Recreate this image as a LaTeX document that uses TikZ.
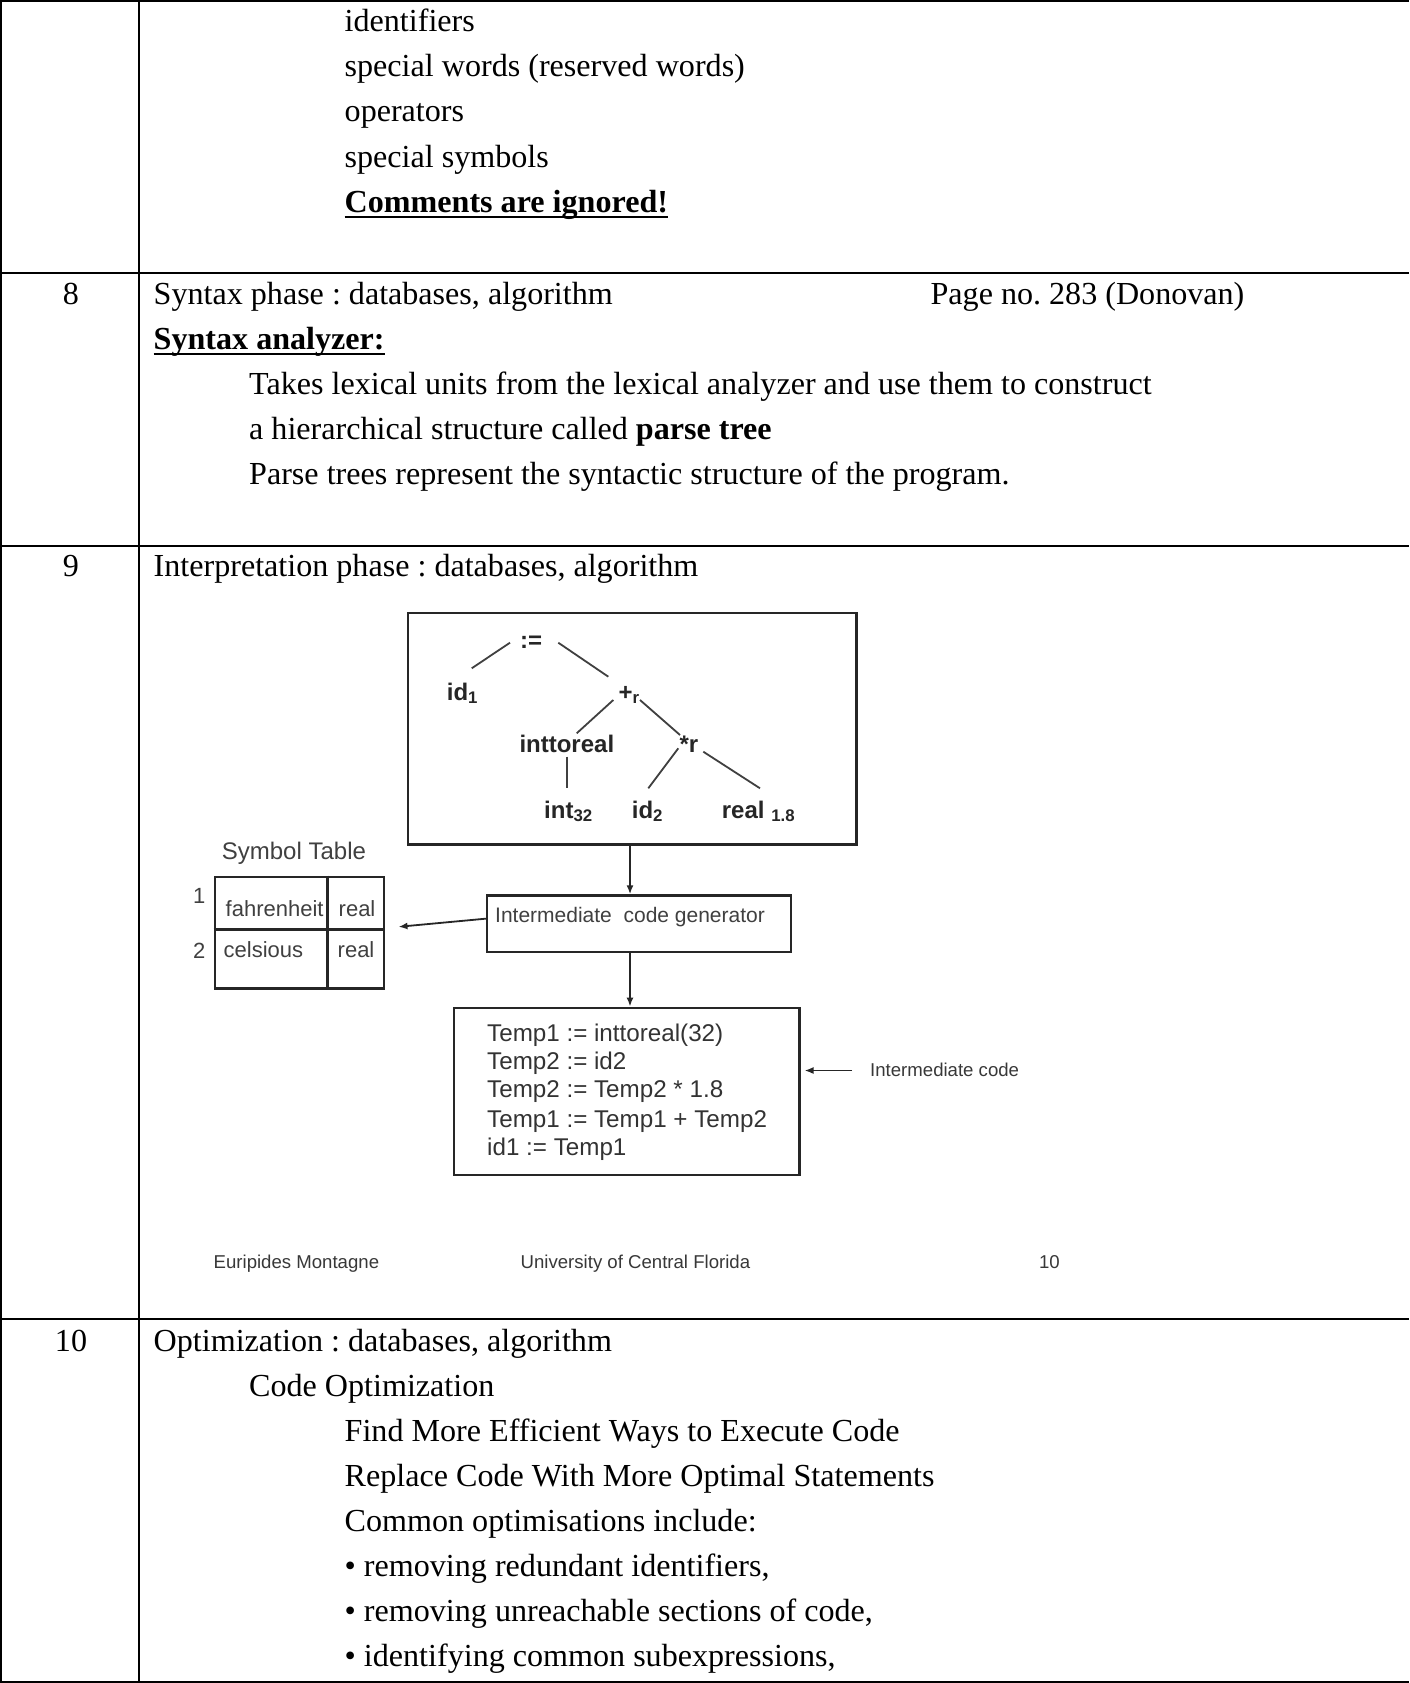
\documentclass[tikz,border=0pt]{standalone}
\usepackage{fontspec}
\setmainfont{Liberation Serif}
\setsansfont{Liberation Sans}
\usetikzlibrary{arrows.meta}
\newcommand{\bodysize}{\fontsize{32.1}{38}\selectfont}
\begin{document}
\frenchspacing
\begin{tikzpicture}[x=1pt,y=-1pt,
  body/.style={anchor=base west,inner sep=0pt,font=\bodysize},
  rownum/.style={anchor=base,inner sep=0pt,font=\bodysize},
  rule/.style={line width=2pt},
  uline/.style={line width=2.4pt},
  frame/.style={draw=black!85,line width=2.4pt},
  tlabel/.style={anchor=base west,inner sep=0pt,font=\sffamily\bfseries\fontsize{24}{28}\selectfont,text=black!85},
  tedge/.style={draw=black!75,line width=1.8pt},
  slabel/.style={anchor=base west,inner sep=0pt,font=\sffamily\fontsize{22}{26}\selectfont,text=black!75},
  code/.style={anchor=base west,inner sep=0pt,font=\sffamily\fontsize{24.2}{28}\selectfont,text=black!80},
  small/.style={anchor=base west,inner sep=0pt,font=\sffamily\fontsize{18.6}{22}\selectfont,text=black!78},
  arr/.style={draw=black!85,line width=1.8pt,-{Latex[length=9pt,width=7pt]}},
]
\useasboundingbox (0,0) rectangle (1409,1683);
\fill[white] (0,0) rectangle (1409,1683);

% ---------- table grid ----------
\draw[rule] (0,1) -- (1409,1);
\draw[rule] (0,272.8) -- (1409,272.8);
\draw[rule] (0,546.2) -- (1409,546.2);
\draw[rule] (0,1318.9) -- (1409,1318.9);
\draw[rule] (0,1681.5) -- (1409,1681.5);
\draw[rule] (1,0) -- (1,1683);
\draw[rule] (138.5,0) -- (138.5,1683);

% ---------- first row (continued list) ----------
\node[body] (t1) at (344.5,32) {identifiers};
\node[body] (t2) at (344.5,77) {special words (reserved words)};
\node[body] (t3) at (344.5,122) {operators};
\node[body] (t4) at (344.5,167) {special symbols};
\node[body] (t5) at (344.5,212) {\bfseries Comments are ignored!};
\draw[uline] ([yshift=-5pt]t5.base west) -- ([yshift=-5pt]t5.base east);

% ---------- row 8 ----------
\node[rownum] (n8) at (71,304) {8};
\node[body] (s1) at (153.5,304) {Syntax phase : databases, algorithm};
\node[body] (s2) at (930.4,304) {Page no. 283 (Donovan)};
\node[body] (s3) at (153.5,349) {\bfseries Syntax analyzer:};
\draw[uline] ([yshift=-5pt]s3.base west) -- ([yshift=-5pt]s3.base east);
\node[body] (s4) at (249,394) {Takes lexical units from the lexical analyzer and use them to construct};
\node[body] (s5) at (249,439) {a hierarchical structure called \textbf{parse tree}};
\node[body] (s6) at (249,484) {Parse trees represent the syntactic structure of the program.};

% ---------- row 9 ----------
\node[rownum] (n9) at (71,576.5) {9};
\node[body] (i1) at (153.5,576.5) {Interpretation phase : databases, algorithm};

% parse tree
\node[frame,draw,minimum width=448.6pt,minimum height=231.6pt,anchor=north west,inner sep=0pt] (treebox) at (406.7,611.7) {};
\node[tlabel] (asg) at (520,648) {:=};
\node[tlabel] (id1) at (446.7,700) {id\textsubscript{1}};
\node[tlabel] (plus) at (618.3,700) {+\textsubscript{r}};
\node[tlabel] (itr) at (519.3,752) {inttoreal};
\node[tlabel] (mul) at (679.3,752) {*r};
\node[tlabel] (i32) at (544,818) {int\textsubscript{32}};
\node[tlabel] (id2) at (631.7,818) {id\textsubscript{2}};
\node[tlabel] (r18) at (721.7,818) {real \textsubscript{1.8}};

\coordinate (e1a) at (510,642.7);   \coordinate (e1b) at (471.7,668.3);
\coordinate (e2a) at (558.3,642.7); \coordinate (e2b) at (608.3,676.7);
\coordinate (e3a) at (613.3,700);   \coordinate (e3b) at (576.7,733.3);
\coordinate (e4a) at (640,700);     \coordinate (e4b) at (680,735);
\coordinate (e5a) at (566.7,756.7); \coordinate (e5b) at (566.7,788.3);
\coordinate (e6a) at (678.3,748.3); \coordinate (e6b) at (648.3,788.3);
\coordinate (e7a) at (703.3,751.7); \coordinate (e7b) at (760,788.3);
\draw[tedge] (e1a) -- (e1b);
\draw[tedge] (e2a) -- (e2b);
\draw[tedge] (e3a) -- (e3b);
\draw[tedge] (e4a) -- (e4b);
\draw[tedge] (e5a) -- (e5b);
\draw[tedge] (e6a) -- (e6b);
\draw[tedge] (e7a) -- (e7b);

% symbol table
\node[slabel,font=\sffamily\fontsize{24}{28}\selectfont] (sttitle) at (221.7,859) {Symbol Table};
\node[frame,draw,minimum width=169.5pt,minimum height=111.7pt,anchor=north west,inner sep=0pt] (symtab) at (213.5,875.6) {};
\draw[frame] (327.3,875.6) -- (327.3,987.3);
\draw[frame] (213.5,929.3) -- (383,929.3);
\node[slabel] (r1) at (193,903) {1};
\node[slabel] (r2) at (193,958) {2};
\node[slabel] (fa) at (225.5,916.5) {fahrenheit};
\node[slabel] (fr) at (338.5,916.5) {real};
\node[slabel] (ce) at (223.5,957) {celsious};
\node[slabel] (cr) at (337.5,957) {real};

% intermediate code generator
\node[frame,draw,minimum width=304.3pt,minimum height=56.4pt,anchor=north west,inner sep=0pt] (icg) at (485.5,894.3) {};
\node[slabel,font=\sffamily\fontsize{21}{25}\selectfont] (icgtxt) at (495,922) {Intermediate\ \ code generator};

% vertical flow axis of the slide
\coordinate (flow) at (630,0);
\coordinate (tipst) at (398.5,926.8);
\coordinate (icgl) at (486.5,918.6);
\draw[arr] (treebox.south -| flow) -- (icg.north -| flow);
\draw[arr] (icgl) -- (tipst);

% intermediate code
\node[frame,draw,minimum width=345.5pt,minimum height=167.4pt,anchor=north west,inner sep=0pt] (tbox) at (452.9,1006.6) {};
\draw[arr] (icg.south -| flow) -- (tbox.north -| flow);
\node[code] (c1) at (487,1041.5) {Temp1 := inttoreal(32)};
\node[code] (c2) at (487,1069.5) {Temp2 := id2};
\node[code] (c3) at (487,1097.5) {Temp2 := Temp2 * 1.8};
\node[code] (c4) at (487,1127) {Temp1 := Temp1 + Temp2};
\node[code] (c5) at (487,1155) {id1 := Temp1};

\node[small] (iclabel) at (870,1076.5) {Intermediate code};
\coordinate (ictail) at (852,1070.5);
\coordinate (ictip) at (804.5,1070.5);
\draw[arr] (ictail) -- (ictip);

% slide footer
\node[small] (f1) at (213.5,1268) {Euripides Montagne};
\node[small] (f2) at (520.5,1268) {University of Central Florida};
\node[small] (f3) at (1038.8,1268) {10};

% ---------- row 10 ----------
\node[rownum] (n10) at (71,1351.5) {10};
\node[body] (o1) at (153.5,1351.5) {Optimization : databases, algorithm};
\node[body] (o2) at (249,1396.5) {Code Optimization};
\node[body] (o3) at (344.5,1441.5) {Find More Efficient Ways to Execute Code};
\node[body] (o4) at (344.5,1486.5) {Replace Code With More Optimal Statements};
\node[body] (o5) at (344.5,1531.5) {Common optimisations include:};
\node[body] (o6) at (344.5,1576.5) {• removing redundant identifiers,};
\node[body] (o7) at (344.5,1621.5) {• removing unreachable sections of code,};
\node[body] (o8) at (344.5,1666.5) {• identifying common subexpressions,};
\end{tikzpicture}
\end{document}
